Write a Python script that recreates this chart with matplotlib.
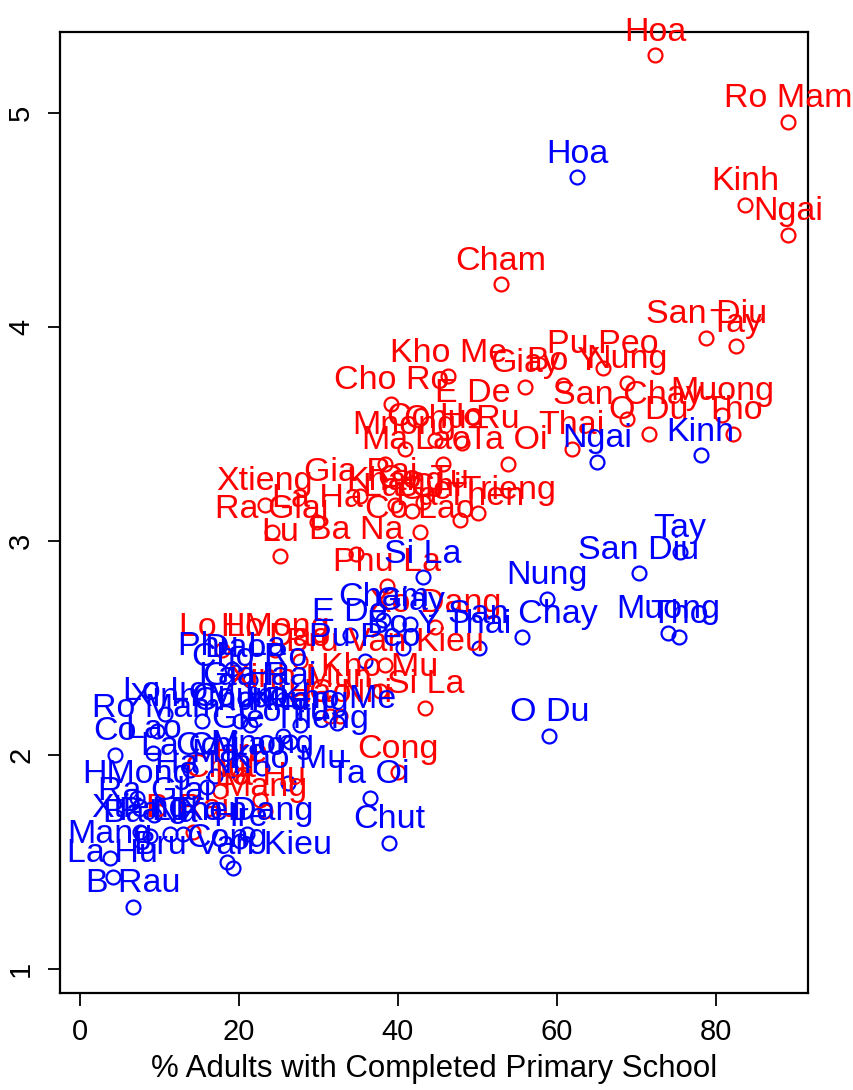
import matplotlib
matplotlib.use("Agg")
import matplotlib.pyplot as plt
from matplotlib import font_manager

# ---------------- data ----------------
red_names = ["Hoa", "Ro Mam", "Kinh", "Ngai", "Cham", "San Diu", "Tay", "Pu Peo", "Kho Me", "Giay",
             "Bo Y", "Nung", "Cho Ro", "E De", "San Chay", "Muong", "O Du", "Tho", "Thai", "Ta Oi",
             "Chu Ru", "Co Ho", "Mnong", "Ma", "Lao", "Gia Rai", "La Chi", "Khang", "Pa Then", "Co Tu",
             "Gie Trieng", "Co Lao", "Xtieng", "Ra Glai", "La Ha", "Lu", "Ba Na", "Phu La", "Xo Dang", "Lo Lo",
             "HMong", "Dao", "Bru Van Kieu", "Kho Mu", "Ha Nhi", "Si La", "Cong", "Mang", "Chut", "B Rau",
             "La Hu", "Xinh Mun", "Co", "Hre"]
red_x = [72.4, 89.1, 83.7, 89.1, 53.0, 78.8, 82.5, 65.8, 46.4, 56.0,
         60.8, 68.9, 39.2, 49.4, 68.9, 80.8, 71.6, 82.2, 61.9, 53.9,
         48.1, 44.7, 40.9, 38.4, 45.7, 35.3, 41.8, 39.7, 47.9, 43.2,
         50.1, 42.8, 23.3, 24.2, 29.9, 25.2, 34.8, 38.7, 44.7, 17.9,
         24.6, 27.7, 38.4, 37.8, 32.8, 43.5, 40.0, 23.3, 17.7, 14.3,
         22.7, 27.7, 31.5, 20.2]
red_y = [5.27, 4.96, 4.57, 4.43, 4.20, 3.95, 3.91, 3.81, 3.77, 3.72,
         3.73, 3.74, 3.64, 3.58, 3.57, 3.59, 3.50, 3.50, 3.43, 3.36,
         3.46, 3.47, 3.43, 3.36, 3.36, 3.21, 3.14, 3.17, 3.10, 3.18,
         3.13, 3.04, 3.17, 3.04, 3.09, 2.93, 2.94, 2.79, 2.60, 2.49,
         2.49, 2.44, 2.42, 2.30, 2.18, 2.22, 1.92, 1.74, 1.83, 1.64,
         1.79, 2.25, 2.18, 1.90]

blue_names = ["Hoa", "Kinh", "Ngai", "Tay", "San Diu", "Nung", "San Chay", "Muong", "Tho", "Thai",
              "O Du", "Si La", "Cham", "E De", "Bo Y", "Pu Peo", "Phu La", "Dao", "Kho Me", "Ro Mam",
              "Lo Lo", "Xinh Mun", "Co Lao", "La Chi", "HMong", "Ra Glai", "Xtieng", "Mang", "La Hu", "B Rau",
              "Ba Na", "Lu", "Kho Mu", "Pa Then", "Xo Dang", "Hre", "Bru Van Kieu", "Cong", "Chut", "Ta Oi",
              "Mnong", "Ma", "Gie Trieng", "Co Tu", "Co Ho", "Chu Ru", "Khang", "Gia Rai", "La Ha", "Ha Nhi",
              "Cho Ro", "Lao", "Giay", "Co"]
blue_x = [62.6, 78.1, 65.1, 75.5, 70.3, 58.8, 55.7, 74.0, 75.4, 50.2,
          59.1, 43.2, 38.2, 34.0, 40.7, 35.9, 19.2, 19.6, 32.4, 9.7,
          10.8, 15.4, 19.0, 13.9, 7.2, 9.4, 7.6, 3.8, 4.2, 6.7,
          8.9, 11.4, 26.2, 13.0, 21.1, 20.2, 19.3, 18.6, 38.9, 36.5,
          23.0, 17.0, 26.5, 25.6, 20.2, 21.5, 27.7, 22.7, 20.8, 16.0,
          21.4, 9.3, 41.6, 4.5]
blue_y = [4.70, 3.40, 3.37, 2.95, 2.85, 2.73, 2.55, 2.57, 2.55, 2.50,
          2.09, 2.83, 2.63, 2.56, 2.50, 2.44, 2.40, 2.39, 2.15, 2.11,
          2.19, 2.16, 1.93, 1.93, 1.80, 1.72, 1.64, 1.52, 1.43, 1.29,
          1.62, 1.63, 1.87, 1.63, 1.63, 1.60, 1.47, 1.50, 1.59, 1.80,
          1.94, 1.90, 2.06, 2.09, 2.16, 2.14, 2.14, 2.26, 2.26, 1.85,
          2.35, 2.01, 2.61, 2.00]

x_ticks = [0, 20, 40, 60, 80]
y_ticks = [1, 2, 3, 4, 5]
x_label = "% Adults with Completed Primary School"

# ---------------- style ----------------
avail = {f.name for f in font_manager.fontManager.ttflist}
lab_font = "Liberation Sans" if "Liberation Sans" in avail else "DejaVu Sans"
axis_font = "Liberation Sans Narrow" if "Liberation Sans Narrow" in avail else lab_font

fig = plt.figure(figsize=(8.54, 10.90), dpi=100)
ax = fig.add_axes([0.0703, 0.089, 0.8757, 0.8816])

RED = "#FF0000"
BLUE = "#0000FF"

for xs, ys, names, col in [(red_x, red_y, red_names, RED), (blue_x, blue_y, blue_names, BLUE)]:
    ax.plot(xs, ys, linestyle="none", marker="o", ms=10, mfc="none", mec=col, mew=1.6)
    for n, xv, yv in zip(names, xs, ys):
        ax.annotate(n, (xv, yv), xytext=(0, 10.5), textcoords="offset points",
                    ha="center", va="baseline", color=col, fontsize=24.5,
                    family=lab_font, annotation_clip=False)

ax.set_xlim(-2.45, 91.6)
ax.set_ylim(0.888, 5.378)
ax.set_xticks(x_ticks)
ax.set_yticks(y_ticks)
ax.set_xticklabels([str(t) for t in x_ticks], family=axis_font, fontsize=21)
ax.set_yticklabels([str(t) for t in y_ticks], family=axis_font, fontsize=21,
                   rotation=90, va="center")
ax.tick_params(axis="both", direction="out", length=9, width=1.3, pad=9)
for s in ax.spines.values():
    s.set_linewidth(1.6)
ax.set_xlabel(x_label, family=axis_font, fontsize=22.5, labelpad=6)

fig.savefig("out.png", dpi=100)
